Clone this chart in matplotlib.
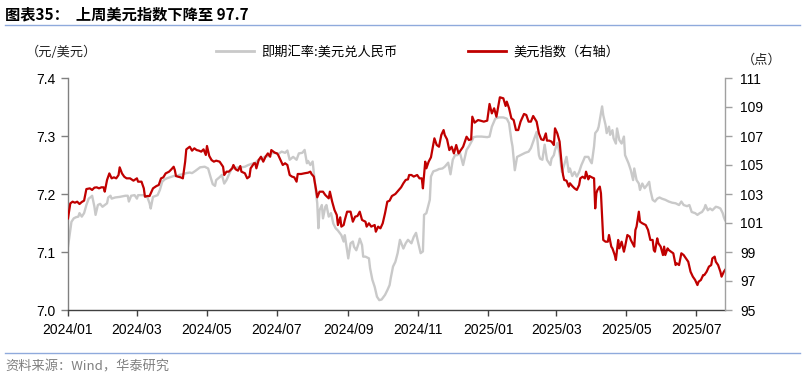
import matplotlib
matplotlib.use("Agg")
import matplotlib.pyplot as plt
import pandas as pd
from matplotlib.lines import Line2D

plt.rcParams['font.family'] = ['Liberation Sans', 'Noto Sans CJK SC', 'DejaVu Sans']

# ---- data: spot USD/CNY (left axis) ----
cny_dates = [
    '2024-01-01','2024-01-03','2024-01-04','2024-01-06','2024-01-08','2024-01-10','2024-01-11','2024-01-13',
    '2024-01-15','2024-01-17','2024-01-19','2024-01-21','2024-01-22','2024-01-24','2024-01-25','2024-01-27',
    '2024-01-29','2024-01-31','2024-02-02','2024-02-04','2024-02-05','2024-02-07','2024-02-08','2024-02-11',
    '2024-02-15','2024-02-20','2024-02-22','2024-02-23','2024-02-25','2024-02-28','2024-03-01','2024-03-02',
    '2024-03-07','2024-03-10','2024-03-12','2024-03-13','2024-03-15','2024-03-19','2024-03-21','2024-03-23',
    '2024-03-25','2024-03-27','2024-03-30','2024-04-02','2024-04-05','2024-04-07','2024-04-10','2024-04-13',
    '2024-04-16','2024-04-18','2024-04-21','2024-04-25','2024-04-29','2024-05-02','2024-05-04','2024-05-06',
    '2024-05-08','2024-05-09','2024-05-12','2024-05-14','2024-05-16','2024-05-18','2024-05-20','2024-05-23',
    '2024-05-25','2024-05-28','2024-05-31','2024-06-03','2024-06-06','2024-06-09','2024-06-12','2024-06-15',
    '2024-06-18','2024-06-21','2024-06-23','2024-06-26','2024-06-29','2024-07-02','2024-07-05','2024-07-08',
    '2024-07-10','2024-07-12','2024-07-15','2024-07-18','2024-07-20','2024-07-23','2024-07-25','2024-07-27',
    '2024-07-28','2024-07-30','2024-08-01','2024-08-03','2024-08-05','2024-08-06','2024-08-07','2024-08-09',
    '2024-08-10','2024-08-12','2024-08-13','2024-08-15','2024-08-17','2024-08-19','2024-08-21','2024-08-23',
    '2024-08-26','2024-08-28','2024-08-29','2024-09-01','2024-09-03','2024-09-05','2024-09-06','2024-09-08',
    '2024-09-10','2024-09-11','2024-09-13','2024-09-14','2024-09-16','2024-09-19','2024-09-20','2024-09-22',
    '2024-09-24','2024-09-26','2024-09-28','2024-09-30','2024-10-03','2024-10-05','2024-10-07','2024-10-08',
    '2024-10-10','2024-10-12','2024-10-14','2024-10-16','2024-10-19','2024-10-21','2024-10-23','2024-10-26',
    '2024-10-28','2024-10-30','2024-11-01','2024-11-03','2024-11-05','2024-11-06','2024-11-08','2024-11-11',
    '2024-11-12','2024-11-14','2024-11-17','2024-11-19','2024-11-22','2024-11-24','2024-11-27','2024-11-29',
    '2024-12-01','2024-12-03','2024-12-05','2024-12-07','2024-12-10','2024-12-13','2024-12-15','2024-12-18',
    '2024-12-19','2024-12-22','2024-12-26','2024-12-31','2025-01-02','2025-01-04','2025-01-07','2025-01-10',
    '2025-01-14','2025-01-17','2025-01-19','2025-01-21','2025-01-22','2025-01-24','2025-01-26','2025-01-29',
    '2025-02-02','2025-02-05','2025-02-07','2025-02-09','2025-02-12','2025-02-14','2025-02-15','2025-02-17',
    '2025-02-19','2025-02-21','2025-02-24','2025-02-25','2025-02-27','2025-02-28','2025-03-02','2025-03-04',
    '2025-03-06','2025-03-08','2025-03-10','2025-03-12','2025-03-13','2025-03-15','2025-03-17','2025-03-19',
    '2025-03-21','2025-03-23','2025-03-25','2025-03-26','2025-03-29','2025-03-31','2025-04-01','2025-04-03',
    '2025-04-04','2025-04-06','2025-04-07','2025-04-09','2025-04-10','2025-04-11','2025-04-13','2025-04-14',
    '2025-04-16','2025-04-17','2025-04-19','2025-04-20','2025-04-22','2025-04-23','2025-04-25','2025-04-27',
    '2025-04-29','2025-04-30','2025-05-03','2025-05-05','2025-05-07','2025-05-08','2025-05-10','2025-05-12',
    '2025-05-13','2025-05-15','2025-05-17','2025-05-19','2025-05-21','2025-05-22','2025-05-24','2025-05-26',
    '2025-05-28','2025-05-30','2025-06-01','2025-06-04','2025-06-07','2025-06-10','2025-06-13','2025-06-16',
    '2025-06-18','2025-06-20','2025-06-23','2025-06-25','2025-06-27','2025-06-30','2025-07-02','2025-07-04',
    '2025-07-06','2025-07-08','2025-07-09','2025-07-11','2025-07-13','2025-07-15','2025-07-18','2025-07-20',
    '2025-07-22','2025-07-24','2025-07-25','2025-07-26']
cny_values = [
    7.109,7.138,7.152,7.158,7.160,7.161,7.167,7.161,
    7.167,7.181,7.192,7.195,7.197,7.178,7.164,7.181,
    7.183,7.178,7.181,7.184,7.194,7.197,7.192,7.194,
    7.195,7.197,7.197,7.187,7.197,7.198,7.192,7.198,
    7.198,7.195,7.184,7.175,7.195,7.198,7.207,7.221,
    7.225,7.227,7.229,7.231,7.231,7.233,7.234,7.236,
    7.237,7.236,7.240,7.246,7.247,7.244,7.230,7.217,
    7.214,7.224,7.229,7.233,7.218,7.224,7.233,7.246,
    7.244,7.246,7.246,7.247,7.250,7.252,7.254,7.259,
    7.261,7.265,7.265,7.270,7.271,7.269,7.273,7.271,
    7.275,7.259,7.264,7.259,7.270,7.271,7.276,7.253,
    7.257,7.250,7.256,7.218,7.184,7.141,7.172,7.181,
    7.158,7.178,7.181,7.161,7.167,7.149,7.141,7.137,
    7.129,7.118,7.129,7.089,7.115,7.118,7.109,7.103,
    7.115,7.123,7.112,7.092,7.092,7.089,7.072,7.052,
    7.040,7.023,7.017,7.018,7.026,7.034,7.043,7.055,
    7.075,7.083,7.098,7.121,7.106,7.115,7.121,7.115,
    7.126,7.133,7.115,7.098,7.101,7.164,7.167,7.190,
    7.230,7.239,7.241,7.243,7.244,7.247,7.254,7.234,
    7.259,7.267,7.267,7.273,7.250,7.276,7.282,7.293,
    7.298,7.299,7.299,7.298,7.299,7.316,7.330,7.332,
    7.332,7.330,7.322,7.293,7.282,7.241,7.264,7.267,
    7.271,7.273,7.279,7.290,7.307,7.267,7.261,7.259,
    7.285,7.259,7.250,7.261,7.267,7.276,7.288,7.270,
    7.238,7.250,7.264,7.238,7.244,7.231,7.238,7.230,
    7.238,7.250,7.259,7.264,7.264,7.256,7.253,7.282,
    7.305,7.310,7.316,7.339,7.351,7.336,7.319,7.305,
    7.316,7.302,7.310,7.296,7.287,7.313,7.293,7.287,
    7.299,7.267,7.253,7.241,7.224,7.244,7.224,7.218,
    7.207,7.218,7.210,7.215,7.221,7.207,7.190,7.187,
    7.192,7.194,7.192,7.190,7.187,7.185,7.184,7.181,
    7.187,7.181,7.179,7.181,7.169,7.167,7.164,7.167,
    7.169,7.175,7.181,7.172,7.175,7.172,7.178,7.177,
    7.175,7.167,7.160,7.155]

# ---- data: US dollar index (right axis) ----
dxy_dates = [
    '2024-01-01','2024-01-03','2024-01-05','2024-01-07','2024-01-09','2024-01-11','2024-01-13','2024-01-15',
    '2024-01-16','2024-01-17','2024-01-20','2024-01-22','2024-01-24','2024-01-26','2024-01-28','2024-01-30',
    '2024-02-01','2024-02-02','2024-02-04','2024-02-06','2024-02-08','2024-02-10','2024-02-12','2024-02-14',
    '2024-02-15','2024-02-17','2024-02-19','2024-02-21','2024-02-24','2024-02-27','2024-03-01','2024-03-02',
    '2024-03-05','2024-03-07','2024-03-08','2024-03-10','2024-03-12','2024-03-15','2024-03-18','2024-03-20',
    '2024-03-22','2024-03-24','2024-03-26','2024-03-29','2024-03-31','2024-04-02','2024-04-03','2024-04-04',
    '2024-04-06','2024-04-08','2024-04-10','2024-04-12','2024-04-13','2024-04-16','2024-04-18','2024-04-20',
    '2024-04-22','2024-04-24','2024-04-26','2024-04-28','2024-04-30','2024-05-01','2024-05-03','2024-05-05',
    '2024-05-07','2024-05-09','2024-05-12','2024-05-15','2024-05-16','2024-05-18','2024-05-20','2024-05-23',
    '2024-05-24','2024-05-26','2024-05-28','2024-05-30','2024-05-31','2024-06-03','2024-06-05','2024-06-07',
    '2024-06-08','2024-06-11','2024-06-12','2024-06-13','2024-06-15','2024-06-17','2024-06-19','2024-06-21',
    '2024-06-23','2024-06-25','2024-06-26','2024-06-29','2024-07-01','2024-07-02','2024-07-04','2024-07-06',
    '2024-07-08','2024-07-10','2024-07-12','2024-07-14','2024-07-16','2024-07-18','2024-07-19','2024-07-22',
    '2024-07-25','2024-07-28','2024-07-30','2024-07-31','2024-08-02','2024-08-04','2024-08-05','2024-08-07',
    '2024-08-10','2024-08-12','2024-08-15','2024-08-16','2024-08-18','2024-08-20','2024-08-22','2024-08-23',
    '2024-08-25','2024-08-26','2024-08-28','2024-08-29','2024-08-31','2024-09-03','2024-09-05','2024-09-07',
    '2024-09-09','2024-09-11','2024-09-13','2024-09-16','2024-09-17','2024-09-19','2024-09-21','2024-09-24',
    '2024-09-25','2024-09-27','2024-09-29','2024-10-01','2024-10-03','2024-10-05','2024-10-07','2024-10-09',
    '2024-10-12','2024-10-15','2024-10-17','2024-10-19','2024-10-21','2024-10-23','2024-10-24','2024-10-26',
    '2024-10-28','2024-10-31','2024-11-02','2024-11-04','2024-11-05','2024-11-07','2024-11-08','2024-11-10',
    '2024-11-12','2024-11-14','2024-11-15','2024-11-17','2024-11-19','2024-11-21','2024-11-23','2024-11-24',
    '2024-11-26','2024-11-28','2024-11-30','2024-12-02','2024-12-04','2024-12-06','2024-12-08','2024-12-10',
    '2024-12-13','2024-12-15','2024-12-17','2024-12-18','2024-12-20','2024-12-23','2024-12-25','2024-12-28',
    '2024-12-31','2025-01-02','2025-01-04','2025-01-06','2025-01-08','2025-01-10','2025-01-11','2025-01-14',
    '2025-01-16','2025-01-17','2025-01-19','2025-01-21','2025-01-23','2025-01-25','2025-01-27','2025-01-29',
    '2025-02-01','2025-02-03','2025-02-05','2025-02-07','2025-02-09','2025-02-12','2025-02-14','2025-02-16',
    '2025-02-18','2025-02-20','2025-02-21','2025-02-23','2025-02-25','2025-02-27','2025-02-28','2025-03-02',
    '2025-03-04','2025-03-06','2025-03-07','2025-03-08','2025-03-10','2025-03-12','2025-03-13','2025-03-15',
    '2025-03-17','2025-03-19','2025-03-21','2025-03-22','2025-03-24','2025-03-26','2025-03-27','2025-03-29',
    '2025-03-30','2025-04-01','2025-04-03','2025-04-04','2025-04-05','2025-04-06','2025-04-08','2025-04-09',
    '2025-04-10','2025-04-11','2025-04-13','2025-04-15','2025-04-16','2025-04-18','2025-04-19','2025-04-21',
    '2025-04-22','2025-04-24','2025-04-25','2025-04-27','2025-04-29','2025-04-30','2025-05-02','2025-05-04',
    '2025-05-05','2025-05-08','2025-05-09','2025-05-10','2025-05-12','2025-05-13','2025-05-15','2025-05-18',
    '2025-05-20','2025-05-22','2025-05-24','2025-05-25','2025-05-26','2025-05-28','2025-05-29','2025-05-31',
    '2025-06-02','2025-06-03','2025-06-04','2025-06-06','2025-06-07','2025-06-09','2025-06-11','2025-06-13',
    '2025-06-14','2025-06-16','2025-06-18','2025-06-20','2025-06-22','2025-06-24','2025-06-26','2025-06-28',
    '2025-06-30','2025-07-02','2025-07-03','2025-07-05','2025-07-07','2025-07-08','2025-07-10','2025-07-12',
    '2025-07-14','2025-07-15','2025-07-17','2025-07-18','2025-07-20','2025-07-22','2025-07-23','2025-07-25',
    '2025-07-26']
dxy_values = [
    101.32,102.35,102.47,102.40,102.47,102.31,102.45,102.54,
    102.93,103.34,103.39,103.28,103.44,103.46,103.39,103.46,
    103.46,103.16,103.97,104.42,104.08,104.15,104.08,104.31,
    104.84,104.42,104.19,104.08,104.08,103.92,104.08,103.85,
    103.85,103.39,102.81,102.86,102.86,103.39,103.55,103.62,
    104.08,104.15,104.42,104.54,104.70,104.88,104.65,104.24,
    104.19,104.15,104.08,105.23,106.08,106.26,105.99,106.15,
    106.03,105.99,105.92,106.08,105.69,106.31,105.62,105.34,
    105.23,105.30,105.23,104.88,104.31,104.54,104.54,104.77,
    105.00,104.70,104.61,104.93,104.54,104.43,104.08,104.20,
    104.77,105.12,105.12,104.77,105.34,105.57,105.23,105.57,
    105.80,105.57,106.03,105.85,105.80,105.69,105.34,105.00,
    105.12,105.00,104.31,104.20,104.15,103.85,104.38,104.38,
    104.43,104.47,104.54,104.38,104.20,103.28,102.77,103.16,
    103.16,102.93,102.70,103.16,102.47,101.90,101.55,100.86,
    101.39,100.75,100.86,101.21,101.78,101.78,101.09,101.44,
    101.48,101.78,101.21,101.09,100.75,100.98,100.75,100.86,
    100.40,100.75,100.63,100.98,101.67,102.47,102.54,102.86,
    103.00,103.28,103.46,103.74,103.97,104.01,104.31,104.31,
    104.20,104.31,104.08,104.08,103.39,105.23,104.77,105.23,
    105.53,106.38,106.84,106.38,106.26,107.07,107.41,107.07,
    106.77,106.03,106.26,105.80,106.38,105.80,106.03,106.26,
    106.95,106.72,106.77,108.33,107.92,108.10,108.06,107.99,
    108.06,109.21,108.56,108.91,108.33,109.25,109.67,109.60,
    109.07,109.37,108.91,108.22,108.10,107.41,107.41,107.99,
    108.52,108.45,107.99,107.99,108.38,107.99,107.18,106.77,
    106.72,107.18,106.68,106.68,106.61,106.38,107.53,107.18,
    106.61,104.88,104.31,103.97,103.92,103.51,103.74,103.55,
    103.39,103.28,103.62,104.08,104.19,104.08,104.54,104.01,
    104.24,104.15,104.08,102.01,103.05,103.28,103.51,103.05,
    101.44,99.83,99.71,99.71,100.17,99.37,99.25,98.79,
    98.45,99.83,99.25,99.71,99.02,99.37,100.17,100.06,
    99.83,99.37,100.52,100.75,101.78,101.09,100.98,100.86,
    100.52,99.83,99.83,99.14,99.02,99.94,99.60,99.37,
    98.79,99.37,98.79,99.25,99.14,99.02,98.91,98.10,
    98.22,98.10,98.91,98.79,98.56,98.33,97.64,97.30,
    97.07,96.72,96.95,97.07,97.41,97.41,97.64,97.99,
    98.10,98.56,98.68,98.33,98.10,97.64,97.30,97.64,
    97.76]

x_tick_dates = ['2024-01-01','2024-03-01','2024-05-01','2024-07-01','2024-09-01',
                '2024-11-01','2025-01-01','2025-03-01','2025-05-01','2025-07-01']
x_tick_labels = ['2024/01','2024/03','2024/05','2024/07','2024/09',
                 '2024/11','2025/01','2025/03','2025/05','2025/07']
left_ticks = [7.0, 7.1, 7.2, 7.3, 7.4]
right_ticks = [95, 97, 99, 101, 103, 105, 107, 109, 111]

title_text = '图表35：  上周美元指数下降至 97.7'
source_text = '资料来源：Wind，华泰研究'
cny_label = '即期汇率:美元兑人民币'
dxy_label = '美元指数（右轴）'
left_unit = '（元/美元）'
right_unit = '（点）'

GRAY = '#C9C9C9'
RED = '#C00000'
CJK = ['Noto Sans CJK SC', 'DejaVu Sans']

fig = plt.figure(figsize=(8.05, 3.78), dpi=100)
ax = fig.add_axes([68/805, 1-310/378, (725-68)/805, (310-78)/378])
ax2 = ax.twinx()

cd = pd.to_datetime(cny_dates)
dd = pd.to_datetime(dxy_dates)
ax.plot(cd, cny_values, color=GRAY, lw=1.7, solid_joinstyle='round')
ax2.plot(dd, dxy_values, color=RED, lw=1.6, solid_joinstyle='round')

ax.set_xlim(pd.Timestamp('2024-01-01'), pd.Timestamp('2025-07-26'))
ax.set_ylim(7.0, 7.4)
ax2.set_ylim(95, 111)
ax.set_yticks(left_ticks)
ax.set_yticklabels([f'{v:.1f}' for v in left_ticks])
ax2.set_yticks(right_ticks)
ax2.set_yticklabels([str(v) for v in right_ticks])
ax.set_xticks(pd.to_datetime(x_tick_dates))
ax.set_xticklabels(x_tick_labels)

for a in (ax, ax2):
    a.spines['top'].set_visible(False)
ax.spines['left'].set_color('#808080')
ax.spines['right'].set_visible(False)
ax2.spines['left'].set_visible(False)
ax2.spines['bottom'].set_visible(False)
ax2.spines['right'].set_color('#A0A0A0')
ax.spines['bottom'].set_color('#404040')
for a in (ax, ax2):
    for s in a.spines.values():
        s.set_linewidth(1.0)

ax.tick_params(axis='x', direction='out', length=4, width=1, color='#404040',
               labelsize=10, pad=5, labelcolor='black')
ax.tick_params(axis='y', direction='out', length=5, width=1, color='#808080',
               labelsize=10, pad=4, labelcolor='black')
ax2.tick_params(axis='y', direction='out', length=5, width=1, color='#A0A0A0',
                labelsize=10, pad=6, labelcolor='black')

# unit labels
fig.text(26/805, 1-52/378, left_unit, fontsize=9.5, va='center', ha='left',
         family=CJK, color='#222222')
fig.text(742/805, 1-60/378, right_unit, fontsize=9.5, va='center', ha='left',
         family=CJK, color='#222222')

# legend
handles = [Line2D([], [], color=GRAY, lw=2), Line2D([], [], color=RED, lw=2)]
fig.legend(handles, [cny_label, dxy_label], loc='center left',
           bbox_to_anchor=(216/805, 1-52/378), ncol=2, frameon=False,
           handlelength=2.9, handletextpad=0.55,
           columnspacing=5.3, borderpad=0, borderaxespad=0,
           prop={'family': CJK, 'size': 9.5})

# title, rules, source
fig.text(5/805, 1-14/378, title_text, fontsize=11, fontweight='bold',
         va='center', ha='left', family=CJK)
fig.add_artist(Line2D([5/805, 800/805], [1-25/378, 1-25/378], color='#8FAADC', lw=1.0))
fig.add_artist(Line2D([5/805, 800/805], [1-353/378, 1-353/378], color='#8FAADC', lw=1.0))
fig.text(5/805, 1-367/378, source_text, fontsize=9.5, va='center', ha='left',
         color='#808080', family=CJK)

fig.savefig('out.png', dpi=100)
